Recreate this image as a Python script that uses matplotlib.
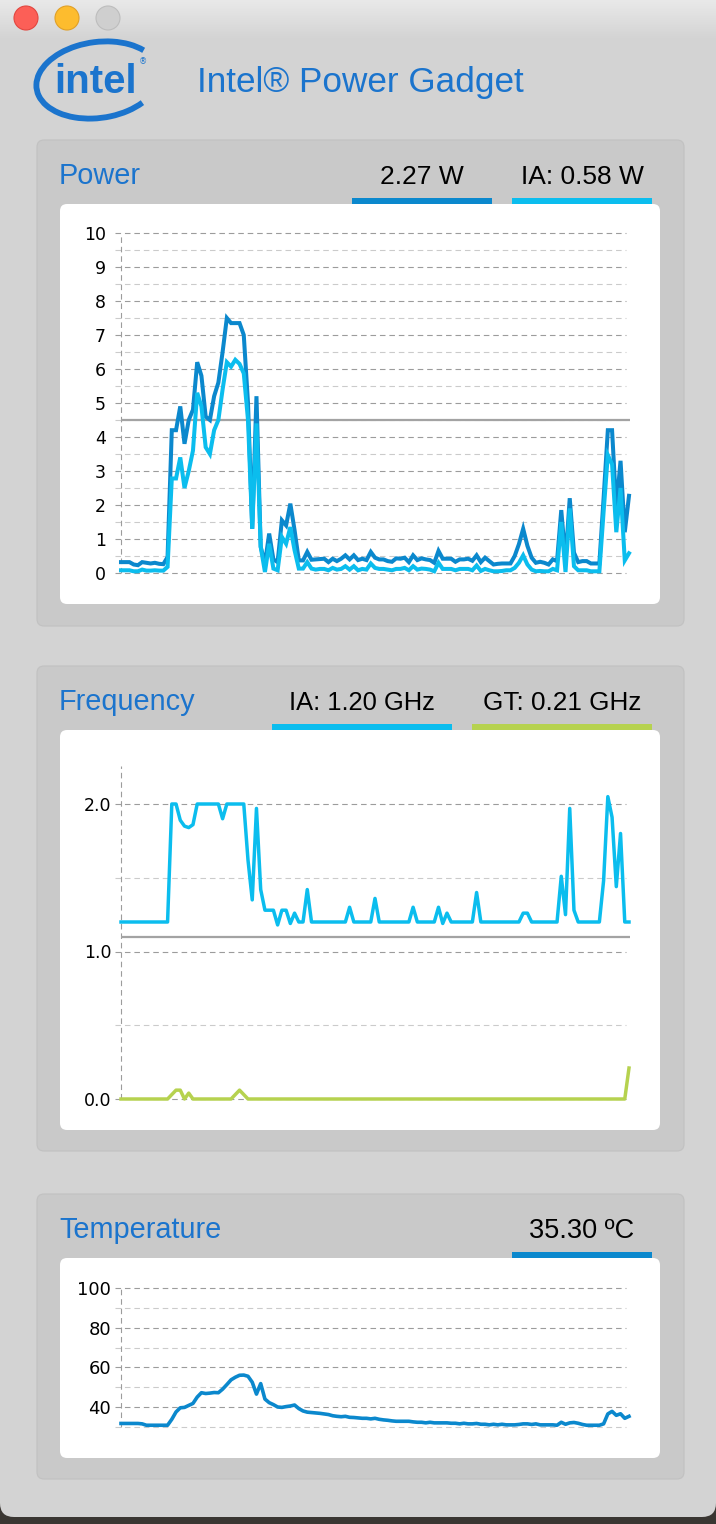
import numpy as np
import matplotlib
matplotlib.use("Agg")
import matplotlib.pyplot as plt
from matplotlib.patches import FancyBboxPatch, Circle, Rectangle, Arc

# ---- data (one sample every ~4.2 px) ----
pkg_power = [0.32, 0.32, 0.32, 0.25, 0.23, 0.32, 0.30, 0.28, 0.30, 0.27, 0.26, 0.47,
             4.2, 4.2, 4.9, 3.8, 4.5, 4.8, 6.2, 5.8, 4.6, 4.5, 5.2, 5.6,
             6.5, 7.5, 7.35, 7.35, 7.35, 7.0, 5.0, 1.3, 5.2, 0.77, 0.28, 1.16,
             0.40, 0.32, 1.55, 1.40, 2.04, 1.26, 0.37, 0.37, 0.62, 0.39, 0.40, 0.41,
             0.42, 0.32, 0.42, 0.35,
             0.42, 0.52, 0.40, 0.52, 0.38, 0.42, 0.38, 0.62, 0.45, 0.40, 0.40, 0.35,
             0.33, 0.43, 0.42, 0.45, 0.32, 0.52, 0.38, 0.43, 0.40, 0.38, 0.30, 0.65,
             0.42, 0.42, 0.42, 0.33, 0.40, 0.40, 0.42, 0.36, 0.52, 0.32, 0.45, 0.35,
             0.25, 0.27, 0.28, 0.28, 0.28, 0.50, 0.85, 1.30, 0.80, 0.45, 0.30, 0.33,
             0.30, 0.25, 0.40, 0.35, 1.85, 0.37, 2.20, 0.60, 0.32, 0.35, 0.35, 0.28,
             0.28, 0.28, 2.20, 4.20, 4.20, 1.90, 3.30, 1.20, 2.27]
ia_power = [0.08, 0.08, 0.08, 0.05, 0.05, 0.10, 0.07, 0.07, 0.08, 0.07, 0.07, 0.18,
            2.78, 2.78, 3.4, 2.5, 3.0, 3.6, 5.3, 4.9, 3.7, 3.5, 4.2, 4.5,
            5.4, 6.2, 6.07, 6.27, 6.15, 5.87, 4.5, 1.3, 4.4, 0.77, 0.03, 0.86,
            0.13, 0.08, 1.06, 0.86, 1.35, 0.67, 0.13, 0.13, 0.32, 0.13, 0.10, 0.12,
            0.12, 0.08, 0.15, 0.10,
            0.12, 0.20, 0.10, 0.20, 0.08, 0.12, 0.10, 0.28, 0.15, 0.12, 0.12, 0.10,
            0.08, 0.12, 0.12, 0.15, 0.08, 0.20, 0.10, 0.13, 0.12, 0.10, 0.05, 0.30,
            0.12, 0.12, 0.12, 0.08, 0.12, 0.12, 0.12, 0.08, 0.22, 0.06, 0.12, 0.08,
            0.05, 0.05, 0.06, 0.08, 0.08, 0.15, 0.30, 0.52, 0.25, 0.10, 0.05, 0.06,
            0.05, 0.05, 0.12, 0.08, 1.50, 0.03, 1.90, 0.20, 0.08, 0.08, 0.08, 0.05,
            0.05, 0.05, 1.80, 3.47, 3.20, 1.20, 2.50, 0.37, 0.58]
power_limit = 4.5

freq_ia = ([1.2] * 12 +
           [2.0, 2.0, 1.89, 1.85, 1.84, 1.86, 2.0, 2.0, 2.0, 2.0, 2.0, 2.0,
            1.9, 2.0, 2.0, 2.0, 2.0, 2.0, 1.62, 1.35, 1.97, 1.42, 1.28, 1.28,
            1.28, 1.18, 1.28, 1.28, 1.19, 1.26, 1.2, 1.2, 1.42, 1.2, 1.2, 1.2,
            1.2, 1.2, 1.2, 1.2, 1.2, 1.2, 1.3, 1.2, 1.2, 1.2, 1.2, 1.2,
            1.36] + [1.2] * 8 + [1.3, 1.2, 1.2,
            1.2, 1.2, 1.2, 1.3, 1.19, 1.26] + [1.2] * 6 +
           [1.4] + [1.2] * 10 + [1.26, 1.26] + [1.2] * 7 +
           [1.51, 1.25, 1.97, 1.28] + [1.2] * 6 +
           [1.48, 2.05, 1.91, 1.44, 1.8, 1.2, 1.2])
freq_gt = ([0.0] * 12 + [0.03, 0.06, 0.06, 0.0, 0.04] + [0.0] * 10 +
           [0.03, 0.06, 0.03] + [0.0] * 90 + [0.21])
freq_ref = 1.1

temperature = [31.7, 31.7, 31.7, 31.7, 31.7, 31.5, 30.8, 30.8, 30.8, 30.8, 30.8, 30.8,
               33.8, 37.5, 39.6, 39.8, 40.8, 41.8, 45.0, 47.2, 46.8, 47.0, 47.3, 47.2,
               49.0, 51.3, 53.7, 55.0, 56.0, 56.1, 55.5, 52.5, 46.5, 51.8, 44.0, 42.2,
               41.2, 40.0, 39.8, 40.2, 40.5, 41.0, 39.2, 38.0, 37.4, 37.2, 37.0, 36.8,
               36.5, 36.2, 35.6, 35.3, 35.1, 35.3, 34.8, 34.7, 34.5, 34.3, 34.3, 34.0,
               34.3, 33.8, 33.5, 33.3, 33.0, 32.8, 32.8, 32.8, 32.8, 32.5, 32.3, 32.3,
               32.0, 32.3, 32.0, 32.0, 32.0, 32.0, 31.8, 31.8, 31.5, 31.8, 31.5, 31.5,
               31.7, 31.3, 31.3, 31.0, 31.3, 31.0, 31.3, 31.0, 31.0, 31.0, 31.2, 31.5,
               31.5, 31.2, 31.5, 31.0, 31.0, 31.0, 31.0, 30.8, 32.3, 31.3, 32.0, 32.2,
               31.8, 31.2, 30.8, 30.8, 30.8, 30.8, 31.5, 36.5, 37.8, 35.8, 36.6, 34.3, 35.3]

power_ticks = list(range(0, 11))
freq_ticks = [0.0, 1.0, 2.0]
temp_ticks = [40, 60, 80, 100]

# ---- colours ----
BLUE_TXT = "#1b74cd"
DARK_BLUE = "#0b88cd"
LIGHT_BLUE = "#0bbdee"
GREEN = "#b6d24f"
REF_GRAY = "#a3a3a3"
GRID_MAJ = "#9c9c9c"
GRID_MIN = "#cbcbcb"

W, H = 716, 1524
fig = plt.figure(figsize=(W / 100, H / 100), dpi=100)
fig.patch.set_facecolor("#3a3632")

bg = fig.add_axes([0, 0, 1, 1])
bg.set_xlim(0, W)
bg.set_ylim(H, 0)
bg.axis("off")

# window body + title bar gradient
bg.add_patch(FancyBboxPatch((0, -20), W, 1537, boxstyle="round,pad=0,rounding_size=14",
                            fc="#d3d3d3", ec="none"))
grad = np.linspace(0, 1, 50).reshape(-1, 1)
bg.imshow(grad, extent=(0, W, 40, 0), cmap=matplotlib.colors.LinearSegmentedColormap.from_list(
    "tb", ["#e9e9e9", "#d3d3d3"]), aspect="auto", zorder=1)
for cx, fc, ec in [(26, "#fc5f57", "#e2463f"), (67, "#fdbc2e", "#e0a028"), (108, "#cfcfcf", "#bdbdbd")]:
    bg.add_patch(Circle((cx, 18), 12, fc=fc, ec=ec, lw=0.8, zorder=2))

# intel logo
bg.add_patch(Arc((98, 80), 124, 76, angle=-8, theta1=35, theta2=335, color=BLUE_TXT, lw=4.2, zorder=2))
bg.text(96, 93, "intel", color=BLUE_TXT, fontsize=29, family="Liberation Sans", weight="bold",
        ha="center", va="baseline", zorder=3)
bg.text(143, 62, "®", color=BLUE_TXT, fontsize=6, ha="center", va="center", zorder=3)
bg.text(197, 92, "Intel® Power Gadget", color=BLUE_TXT, fontsize=25.3,
        family="Liberation Sans", ha="left", va="baseline", zorder=3)


def panel(top, bottom, wtop, wbottom, title, base, labels):
    bg.add_patch(FancyBboxPatch((37, top), 647, bottom - top, boxstyle="round,pad=0,rounding_size=7",
                                fc="#c9c9c9", ec="#c1c1c1", lw=0.8, zorder=1))
    bg.add_patch(FancyBboxPatch((60, wtop), 600, wbottom - wtop, boxstyle="round,pad=0,rounding_size=7",
                                fc="white", ec="none", zorder=2))
    bg.text(59, base, title, color=BLUE_TXT, fontsize=20.8, family="Liberation Sans",
            ha="left", va="baseline", zorder=3)
    for txt, x0, x1, col, fs in labels:
        bg.text((x0 + x1) / 2, base, txt, color="black", fontsize=fs, family="Liberation Sans",
                ha="center", va="baseline", zorder=3)
        bg.add_patch(Rectangle((x0, wtop - 6), x1 - x0, 6, fc=col, ec="none", zorder=3))


panel(140, 626, 204, 604, "Power", 184,
      [("2.27 W", 352, 492, DARK_BLUE, 19), ("IA: 0.58 W", 512, 652, LIGHT_BLUE, 19)])
panel(666, 1151, 730, 1130, "Frequency", 710,
      [("IA: 1.20 GHz", 272, 452, LIGHT_BLUE, 18.4), ("GT: 0.21 GHz", 472, 652, GREEN, 18.8)])
panel(1194, 1479, 1258, 1458, "Temperature", 1238,
      [("35.30 ºC", 512, 652, DARK_BLUE, 19.5)])

# ---- chart axes, positioned in pixels ----
X0, X1 = 121, 629          # pixel span of samples 0 .. n-1
n = len(pkg_power)
sx = (X1 - X0) / (n - 1)


def chart(top, bottom, y_px0, v0, y_px1, v1, pad):
    left, right = 114, 633
    ax = fig.add_axes([left / W, 1 - bottom / H, (right - left) / W, (bottom - top) / H])
    ax.set_xlim((left - X0) / sx, (right - X0) / sx)
    k = (v1 - v0) / (y_px0 - y_px1)
    ax.set_ylim(v0 - (bottom - y_px0) * k, v0 + (y_px0 - top) * k)
    ax.patch.set_alpha(0)
    for s in ax.spines.values():
        s.set_visible(False)
    ax.set_xticks([])
    ax.tick_params(axis="y", length=0, pad=pad, labelsize=12.5)
    return ax


def grid(ax, majors, minors, ytop, ybot):
    xa, xb = (115 - X0) / sx, (626 - X0) / sx
    ls = (0, (5, 3.5))
    ax.hlines(minors, xa, xb, colors=GRID_MIN, lw=0.8, linestyles=[ls], zorder=1)
    ax.hlines(majors, xa, xb, colors=GRID_MAJ, lw=0.8, linestyles=[ls], zorder=1)
    ax.vlines(0, ybot, ytop, colors=GRID_MAJ, lw=0.8, linestyles=[ls], zorder=1)


t = np.arange(n)

# power
axp = chart(225, 581, 573, 0, 233, 10, 6.0)
grid(axp, power_ticks, [v + 0.5 for v in power_ticks[:-1]], 10, 0)
axp.hlines(power_limit, 0, n - 0.8, colors=REF_GRAY, lw=1.6, zorder=2)
axp.plot(t, pkg_power, color=DARK_BLUE, lw=2.9, solid_joinstyle="miter", zorder=3, clip_on=False)
axp.plot(t, ia_power, color=LIGHT_BLUE, lw=2.9, solid_joinstyle="miter", zorder=4, clip_on=False)
axp.set_yticks(power_ticks)
axp.set_yticklabels([str(v) for v in power_ticks])

# frequency
axf = chart(760, 1105, 1099, 0.0, 804, 2.0, 2.0)
grid(axf, freq_ticks, [0.5, 1.5], 2.26, 0)
axf.hlines(freq_ref, 0, n - 0.8, colors=REF_GRAY, lw=1.6, zorder=2)
axf.plot(t, freq_ia, color=LIGHT_BLUE, lw=2.5, zorder=3, clip_on=False)
axf.plot(t, freq_gt, color=GREEN, lw=2.5, zorder=3, clip_on=False)
axf.set_yticks(freq_ticks)
axf.set_yticklabels([f"{v:.1f}" for v in freq_ticks])

# temperature
axt = chart(1280, 1433, 1407, 40, 1288, 100, 2.0)
grid(axt, temp_ticks, [30, 50, 70, 90], 100, 30)
axt.plot(t, temperature, color=DARK_BLUE, lw=2.6, zorder=3, clip_on=False)
axt.set_yticks(temp_ticks)
axt.set_yticklabels([str(v) for v in temp_ticks])
for lab in axt.get_yticklabels():
    lab.set_fontsize(13)

fig.savefig("out.png", dpi=100, facecolor=fig.get_facecolor())
